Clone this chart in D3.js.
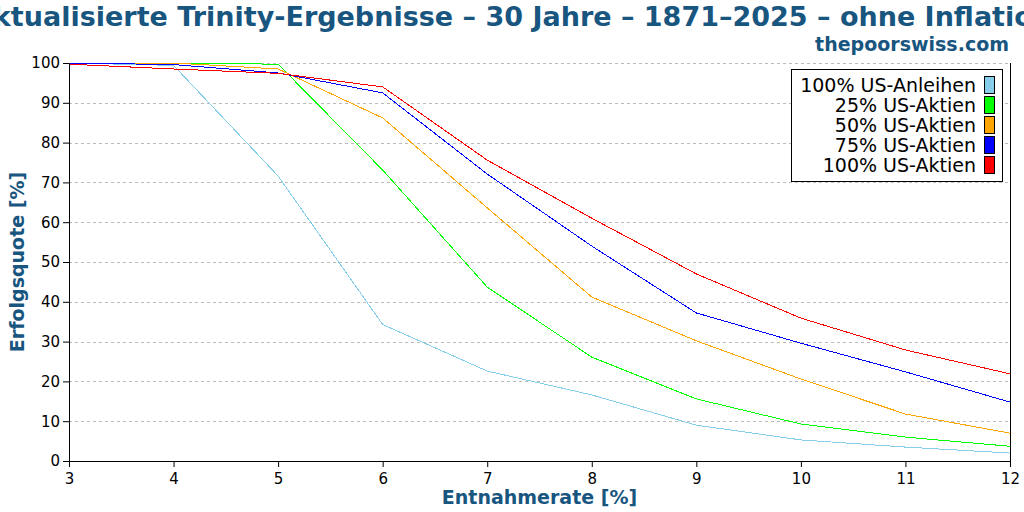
<!DOCTYPE html>
<html>
<head>
<meta charset="utf-8">
<script src="https://cdn.jsdelivr.net/npm/d3@7"></script>
<style>
  body { margin: 0; background: #fff; }
  svg { font-family: "DejaVu Sans", sans-serif; }
</style>
</head>
<body>
<div id="chart"></div>
<script>
// withdrawal rates on the x axis
const rates = [3, 4, 5, 6, 7, 8, 9, 10, 11, 12];

// success rates per portfolio
const bonds100  = [100, 99.4, 71.6, 34.3, 22.6, 16.6, 9.0, 5.3, 3.5, 2.0];
const stocks25  = [100, 100, 99.7, 73.1, 43.7, 26.1, 15.6, 9.3, 6.0, 3.7];
const stocks50  = [100, 100, 98.5, 86.2, 63.6, 41.2, 30.2, 20.6, 11.8, 7.0];
const stocks75  = [100, 99.6, 97.5, 92.5, 72.1, 54.0, 37.2, 29.6, 22.4, 14.8];
const stocks100 = [99.7, 98.5, 97.4, 94.0, 75.6, 61.0, 47.0, 35.9, 27.9, 21.9];

const seriesNames = ["100% US-Anleihen", "25% US-Aktien", "50% US-Aktien", "75% US-Aktien", "100% US-Aktien"];
const seriesColors = ["#87ceeb", "#00ff00", "#ffa500", "#0000ff", "#ff0000"];
const seriesValues = [bonds100, stocks25, stocks50, stocks75, stocks100];

const yTicks = [0, 10, 20, 30, 40, 50, 60, 70, 80, 90, 100];

const width = 1024;
const height = 512;
const margin = {top: 63, right: 14, bottom: 51, left: 69};
const titleColor = "#18557f";

const svg = d3.select("#chart")
  .append("svg")
    .attr("width", width)
    .attr("height", height);

const x = d3.scaleLinear()
  .domain([3, 12])
  .range([margin.left, width - margin.right]);

const y = d3.scaleLinear()
  .domain([0, 100])
  .range([height - margin.bottom, margin.top]);

// dashed grid lines
svg.append("g")
  .selectAll("line")
  .data(yTicks.filter(d => d > 0))
  .join("line")
    .attr("x1", x(3))
    .attr("x2", x(12))
    .attr("y1", d => Math.round(y(d)) + 0.5)
    .attr("y2", d => Math.round(y(d)) + 0.5)
    .attr("stroke", "#bbbbbb")
    .attr("stroke-dasharray", "3,3");

// right border
svg.append("line")
  .attr("x1", x(12) + 0.5)
  .attr("x2", x(12) + 0.5)
  .attr("y1", y(100))
  .attr("y2", y(0))
  .attr("stroke", "black");

// series lines
const line = d3.line()
  .x((d, i) => x(rates[i]))
  .y(d => y(d));

svg.append("g")
  .selectAll("path")
  .data(seriesValues)
  .join("path")
    .attr("d", d => line(d))
    .attr("fill", "none")
    .attr("stroke", (d, i) => seriesColors[i])
    .attr("stroke-width", 1)
    .style("shape-rendering", "crispEdges");

// axes
const xAxis = svg.append("g")
  .attr("transform", `translate(0,${y(0)})`)
  .call(d3.axisBottom(x).tickValues(rates).tickFormat(d3.format("d")).tickSizeOuter(0).tickSize(6));

const yAxis = svg.append("g")
  .attr("transform", `translate(${x(3)},0)`)
  .call(d3.axisLeft(y).tickValues(yTicks).tickSizeOuter(0).tickSize(6));

[xAxis, yAxis].forEach(a => {
  a.selectAll("text")
    .attr("font-family", "DejaVu Sans, sans-serif")
    .attr("font-size", 15)
    .attr("fill", "black");
  a.select(".domain").attr("stroke", "black");
});
xAxis.selectAll("text").attr("dy", "0.9em");

// titles
svg.append("text")
  .attr("x", width / 2)
  .attr("y", 26)
  .attr("text-anchor", "middle")
  .attr("font-size", 27)
  .attr("font-weight", "bold")
  .attr("fill", titleColor)
  .text("Aktualisierte Trinity-Ergebnisse – 30 Jahre – 1871–2025 – ohne Inflation");

svg.append("text")
  .attr("x", 1009)
  .attr("y", 51)
  .attr("text-anchor", "end")
  .attr("font-size", 19)
  .attr("font-weight", "bold")
  .attr("fill", titleColor)
  .text("thepoorswiss.com");

svg.append("text")
  .attr("x", (x(3) + x(12)) / 2)
  .attr("y", 504)
  .attr("text-anchor", "middle")
  .attr("font-size", 19)
  .attr("font-weight", "bold")
  .attr("fill", titleColor)
  .text("Entnahmerate [%]");

svg.append("text")
  .attr("transform", `translate(24,${(y(0) + y(100)) / 2}) rotate(-90)`)
  .attr("text-anchor", "middle")
  .attr("font-size", 19)
  .attr("font-weight", "bold")
  .attr("fill", titleColor)
  .text("Erfolgsquote [%]");

// legend
const legend = svg.append("g");
legend.append("rect")
  .attr("x", 791.5)
  .attr("y", 69.5)
  .attr("width", 211)
  .attr("height", 112)
  .attr("fill", "white")
  .attr("stroke", "black");

const items = legend.selectAll("g.item")
  .data(seriesNames)
  .join("g")
    .attr("class", "item")
    .attr("transform", (d, i) => `translate(0,${85 + i * 20})`);

items.append("text")
  .attr("x", 976)
  .attr("y", 0)
  .attr("dy", "0.35em")
  .attr("text-anchor", "end")
  .attr("font-size", 19)
  .attr("fill", "black")
  .text(d => d);

items.append("rect")
  .attr("x", 984.5)
  .attr("y", -8.5)
  .attr("width", 10)
  .attr("height", 17)
  .attr("fill", (d, i) => seriesColors[i])
  .attr("stroke", "black");
</script>
</body>
</html>
